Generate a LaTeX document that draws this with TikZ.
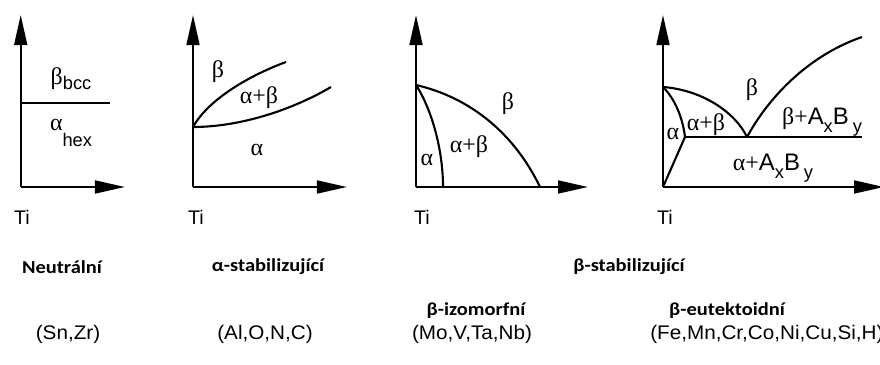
\documentclass[tikz,border=0pt]{standalone}
\usepackage{fontspec}
\setmainfont{Liberation Sans}
\newfontfamily\grk{Liberation Serif}
\newfontfamily\hdrfont{Carlito}
\usetikzlibrary{positioning,arrows.meta}
\newcommand\lowidx[2][-0.35ex]{\raisebox{#1}{\fontsize{13}{14}\selectfont #2}}
\tikzset{
  axis/.style = {line width=1.6pt, -{Triangle[length=0.75cm,width=0.32cm]}},
  bnd/.style  = {line width=1.5pt},
  lbl/.style  = {font=\fontsize{17}{19}\selectfont, inner sep=0pt},
  ti/.style   = {font=\fontsize{14}{16}\selectfont, inner sep=0pt},
  hdr/.style  = {font=\hdrfont\bfseries\fontsize{13}{15}\selectfont, xscale=1.12,
                 inner sep=0pt},
  elm/.style  = {font=\fontsize{14}{16}\selectfont, xscale=1.05, inner sep=0pt},
}

\begin{document}
\begin{tikzpicture}[x=0.025cm, y=-0.025cm]
  \useasboundingbox (0,0) rectangle (880,365);
  % neutral
  \coordinate (o1) at (20.7,187);
  \draw[axis] (o1) -- (20.7,15);
  \draw[axis] (o1) -- (125,187);
  \draw[bnd] (20.7,103) -- (110,103);
  \node[lbl] (b1) at (71,79) {{\grk β}\lowidx{bcc}};
  \node[lbl] (a1) at (71,133) {{\grk α}\lowidx[-11pt]{hex}};
  \node[ti] (ti1) at (22,217) {Ti};
  % alpha stabilizing
  \coordinate (o2) at (193,187);
  \coordinate (s2) at (193,127);
  \draw[axis] (o2) -- (193,15);
  \draw[axis] (o2) -- (347,187);
  \draw[bnd] (s2) .. controls (208,100) and (248,76) .. (286,62);
  \draw[bnd] (s2) .. controls (240,127) and (292,110) .. (331,87);
  \node[lbl] (b2) at (218,72) {\grk β};
  \node[lbl] (ab2) at (259,98) {\grk α+β};
  \node[lbl] (a2) at (257,150) {\grk α};
  \node[ti] (ti2) at (196,217) {Ti};
  % beta isomorphous
  \coordinate (o3) at (416,187);
  \coordinate (s3) at (416,85);
  \draw[axis] (o3) -- (416,15);
  \draw[axis] (o3) -- (588,187);
  \draw[bnd] (s3) .. controls (472,98) and (515,135) .. (540,187);
  \draw[bnd] (s3) .. controls (432,110) and (443,150) .. (443,187);
  \node[lbl] (b3) at (508,104) {\grk β};
  \node[lbl] (ab3) at (469,147) {\grk α+β};
  \node[lbl] (a3) at (427,160) {\grk α};
  \node[ti] (ti3) at (422,217) {Ti};
  % beta eutectoid
  \coordinate (o4) at (663,187);
  \coordinate (s4) at (663,87);
  \coordinate (tp) at (685,137);
  \coordinate (eu) at (747,137);
  \draw[axis] (o4) -- (663,15);
  \draw[axis] (o4) -- (884,187);
  \draw[bnd] (s4) .. controls (702,90) and (735,112) .. (eu);
  \draw[bnd] (s4) .. controls (676,100) and (683,120) .. (tp);
  \draw[bnd] (eu) .. controls (770,95) and (810,55) .. (862,37);
  \draw[bnd] (tp) -- (862,137);
  \draw[bnd] (tp) -- (o4);
  \node[lbl] (b4) at (752,90) {\grk β};
  \node[lbl] (ab4) at (706,125) {\grk α+β};
  \node[lbl] (a4) at (673,134) {\grk α};
  \node[lbl] (bc4) at (822,122) {{\grk β+}A\lowidx[-0.6ex]{x}B\,\lowidx[-0.6ex]{y}};
  \node[lbl] (ac4) at (773,168) {{\grk α+}A\lowidx[-0.6ex]{x}B\,\lowidx[-0.6ex]{y}};
  \node[ti] (ti4) at (665,217) {Ti};
  % captions
  \node[hdr] (h1) at (62,267) {Neutrální};
  \node[hdr] (h2) at (268,267) {α-stabilizující};
  \node[hdr] (h3) at (629,267) {β-stabilizující};
  \node[hdr] (h4) at (476,311) {β-izomorfní};
  \node[hdr] (h5) at (727,311) {β-eutektoidní};
  \node[elm] (e1) at (68,334) {(Sn,Zr)};
  \node[elm] (e2) at (265,334) {(Al,O,N,C)};
  \node[elm] (e3) at (472,334) {(Mo,V,Ta,Nb)};
  \node[elm, anchor=west] (e4) at (650,334) {(Fe,Mn,Cr,Co,Ni,Cu,Si,H)};
\end{tikzpicture}
\end{document}
